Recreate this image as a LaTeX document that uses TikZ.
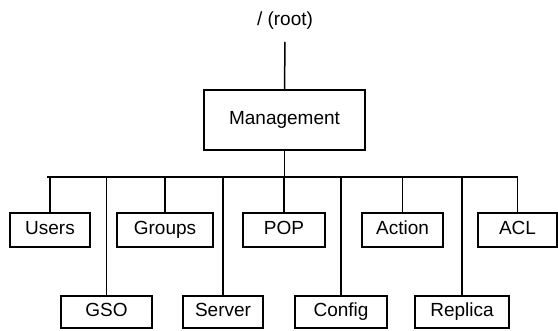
\documentclass[tikz,border=0pt]{standalone}
\usepackage{fontspec}
\setmainfont{Liberation Sans}
\begin{document}
\begin{tikzpicture}[x=1pt,y=-1pt,inner sep=0pt,outer sep=0pt,line width=1.5pt,
font=\fontsize{19}{21}\selectfont,
dirbox/.style={draw,rectangle,minimum height=34pt,text height=13.5pt,text depth=4pt},
lowbox/.style={dirbox,minimum height=32pt}]
\useasboundingbox (0,0) rectangle (558,330);

\draw (285,21) node[inner sep=12pt] (root) {/ (root)};
\draw (284.5,120) node[dirbox,minimum width=161pt,minimum height=60pt] (Mgmt) {Management};

% first row
\draw (50,230) node[dirbox,minimum width=80pt] (Users) {Users};
\draw (165,230) node[dirbox,minimum width=96pt] (Groups) {Groups};
\draw (284,230) node[dirbox,minimum width=82pt] (POP) {POP};
\draw (402.5,230) node[dirbox,minimum width=81pt] (Action) {Action};
\draw (517.5,230) node[dirbox,minimum width=79pt] (ACL) {ACL};

% second row
\draw (106.5,312) node[lowbox,minimum width=91pt] (GSO) {GSO};
\draw (223,312) node[lowbox,minimum width=80pt] (Server) {Server};
\draw (341,312) node[lowbox,minimum width=92pt] (Config) {Config};
\draw (462,312) node[lowbox,minimum width=94pt] (Replica) {Replica};

\coordinate (busL) at (47,177);
\draw (root.south) -- (Mgmt.north);
\draw (Mgmt.south) -- (Mgmt.south |- busL);
\draw (busL) -- (busL -| ACL.north);

\draw (Users.north) -- (Users.north |- busL);
\draw (Groups.north) -- (Groups.north |- busL);
\draw (POP.north) -- (POP.north |- busL);
\draw (Action.north) -- (Action.north |- busL);
\draw (ACL.north) -- (ACL.north |- busL);
\draw (GSO.north) -- (GSO.north |- busL);
\draw (Server.north) -- (Server.north |- busL);
\draw (Config.north) -- (Config.north |- busL);
\draw (Replica.north) -- (Replica.north |- busL);
\end{tikzpicture}
\end{document}
